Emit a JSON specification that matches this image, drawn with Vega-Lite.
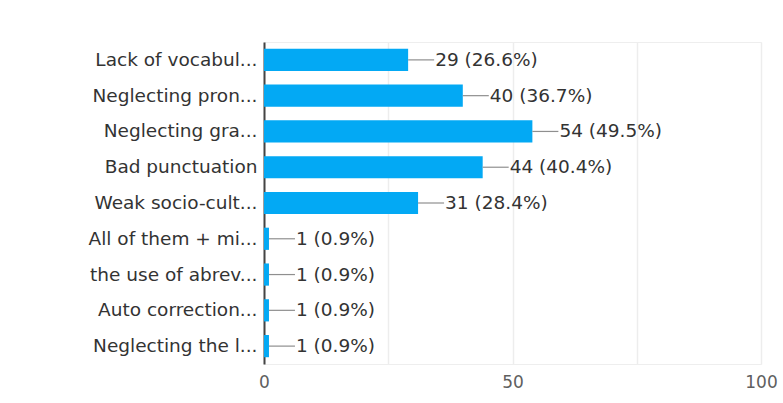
{
  "$schema": "https://vega.github.io/schema/vega-lite/v6.json",
  "width": 497,
  "height": 322,
  "autosize": {"type": "none"},
  "padding": {"left": 264, "top": 42, "right": 22, "bottom": 39},
  "background": "white",
  "config": {
    "view": {"stroke": "#eeeeee", "strokeWidth": 1},
    "font": "DejaVu Sans"
  },
  "data": {
    "values": [
      {"option": "Lack of vocabul...", "count": 29, "label": "29 (26.6%)"},
      {"option": "Neglecting pron...", "count": 40, "label": "40 (36.7%)"},
      {"option": "Neglecting gra...", "count": 54, "label": "54 (49.5%)"},
      {"option": "Bad punctuation", "count": 44, "label": "44 (40.4%)"},
      {"option": "Weak socio-cult...", "count": 31, "label": "31 (28.4%)"},
      {"option": "All of them + mi...", "count": 1, "label": "1 (0.9%)"},
      {"option": "the use of abrev...", "count": 1, "label": "1 (0.9%)"},
      {"option": "Auto correction...", "count": 1, "label": "1 (0.9%)"},
      {"option": "Neglecting the l...", "count": 1, "label": "1 (0.9%)"}
    ]
  },
  "encoding": {
    "y": {
      "field": "option",
      "type": "nominal",
      "sort": null,
      "scale": {"paddingInner": 0.38, "paddingOuter": 0.19},
      "axis": {
        "title": null,
        "ticks": false,
        "domain": true,
        "domainColor": "#444444",
        "domainWidth": 2,
        "labelFont": "DejaVu Sans",
        "labelFontSize": 18.5,
        "labelColor": "#333333",
        "labelPadding": 7,
        "labelLimit": 300,
        "grid": false
      }
    }
  },
  "layer": [
    {
      "mark": {"type": "bar", "color": "#03a9f4"},
      "encoding": {
        "x": {
          "field": "count",
          "type": "quantitative",
          "scale": {"domain": [0, 100], "nice": false},
          "axis": {
            "title": null,
            "values": [0, 25, 50, 75, 100],
            "labelExpr": "datum.value % 50 === 0 ? datum.label : ''",
            "labelFlush": false,
            "domain": false,
            "ticks": false,
            "grid": true,
            "gridColor": "#ededed",
            "gridWidth": 1.5,
            "labelFont": "DejaVu Sans",
            "labelFontSize": 17,
            "labelColor": "#5f5f5f",
            "labelPadding": 10
          }
        }
      }
    },
    {
      "mark": {"type": "rule", "color": "#8f8f8f", "strokeWidth": 1.2, "x2Offset": 26},
      "encoding": {
        "x": {"field": "count", "type": "quantitative"},
        "x2": {"field": "count"}
      }
    },
    {
      "mark": {"type": "text", "align": "left", "baseline": "middle", "dx": 27, "fontSize": 18.5, "font": "DejaVu Sans", "color": "#333333"},
      "encoding": {
        "x": {"field": "count", "type": "quantitative"},
        "text": {"field": "label"}
      }
    }
  ]
}
